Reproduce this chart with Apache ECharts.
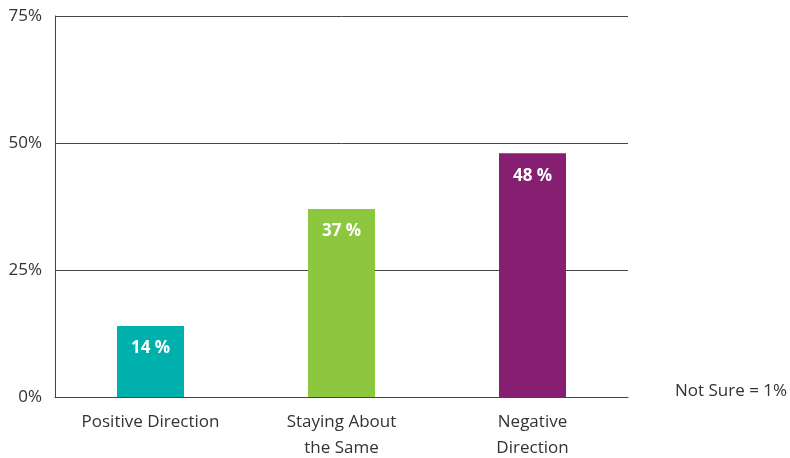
<!DOCTYPE html>
<html>
<head>
<meta charset="utf-8">
<script src="https://cdn.jsdelivr.net/npm/echarts@6/dist/echarts.min.js"></script>
<style>
  html, body { margin: 0; padding: 0; background: #fff; }
  #main { width: 790px; height: 458px; }
</style>
</head>
<body>
<div id="main"></div>
<script>
var categories = ['Positive Direction', 'Staying About\nthe Same', 'Negative\nDirection'];
var values = [14, 37, 48];
var barColors = ['#00b0ad', '#8dc63f', '#861f72'];
var yTicks = [0, 25, 50, 75];
var noteText = 'Not Sure = 1%';

var chart = echarts.init(document.getElementById('main'));

chart.setOption({
    animation: false,
    grid: { left: 55, right: 162, top: 16, bottom: 61, outerBoundsMode: 'none', containLabel: false },
    xAxis: {
        type: 'category',
        data: categories,
        axisLine: { lineStyle: { color: '#444', width: 1 } },
        axisTick: { show: false },
        axisLabel: {
            color: '#333', fontSize: 17, fontFamily: 'Open Sans',
            margin: 12, lineHeight: 26
        }
    },
    yAxis: {
        type: 'value',
        min: yTicks[0],
        max: yTicks[yTicks.length - 1],
        interval: 25,
        axisLine: { show: true, lineStyle: { color: '#444', width: 1 } },
        axisTick: { show: false },
        splitLine: { lineStyle: { color: '#444', width: 1 } },
        axisLabel: {
            color: '#333', fontSize: 17, fontFamily: 'Open Sans', margin: 13,
            formatter: '{value}%'
        }
    },
    series: [{
        type: 'bar',
        barWidth: 67,
        data: values.map(function (v, i) {
            return { value: v, itemStyle: { color: barColors[i] } };
        }),
        label: {
            show: true,
            position: 'insideTop',
            distance: 14,
            color: '#fff',
            fontWeight: 'bold',
            fontSize: 17,
            fontFamily: 'Open Sans',
            formatter: function (p) { return p.value + ' %'; }
        }
    }],
    graphic: [{
        type: 'text',
        left: 675,
        top: 383,
        style: { text: noteText, fill: '#333', fontSize: 17, fontFamily: 'Open Sans' }
    }]
});
</script>
</body>
</html>
